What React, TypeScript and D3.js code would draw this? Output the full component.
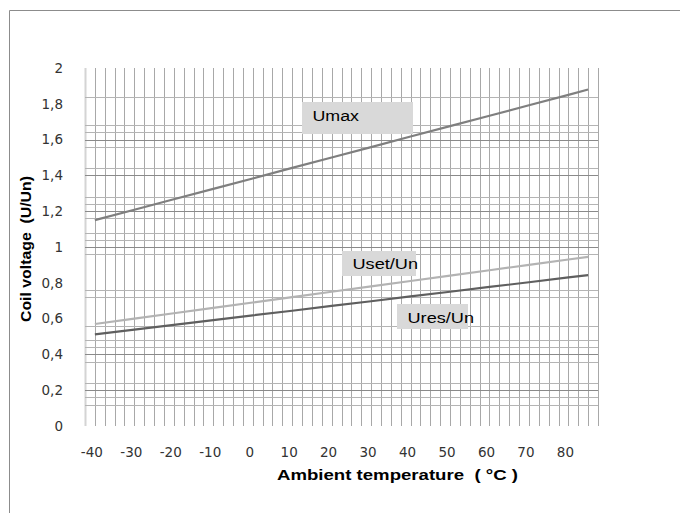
import React from "react";
import * as d3 from "d3";

// Temperatures (°C) at which the curves were read
const temps = [-40, -30, -20, -10, 0, 10, 20, 30, 40, 50, 60, 70, 80, 85];
// Coil voltage ratios
const umax = [1.15, 1.208, 1.267, 1.325, 1.383, 1.442, 1.5, 1.558, 1.617, 1.675, 1.733, 1.792, 1.85, 1.88];
const uset = [0.57, 0.6, 0.63, 0.66, 0.69, 0.72, 0.75, 0.78, 0.81, 0.84, 0.87, 0.9, 0.93, 0.945];
const ures = [0.512, 0.538, 0.565, 0.591, 0.618, 0.644, 0.671, 0.697, 0.724, 0.75, 0.777, 0.803, 0.83, 0.843];

// Axis ticks
const xTickLabels = [-40, -30, -20, -10, 0, 10, 20, 30, 40, 50, 60, 70, 80];
const yTickLabels = [0, 0.2, 0.4, 0.6, 0.8, 1, 1.2, 1.4, 1.6, 1.8, 2];

// Visible horizontal grid lines (major ones darker)
const hGridMajor = [1.6, 1.4, 1.2, 1.0, 0.4, 0.2];
const hGridMinor = [
  1.84, 1.68, 1.64, 1.56, 1.44, 1.28, 1.24, 1.16, 1.08, 1.04, 0.96, 0.76, 0.72,
  0.56, 0.48, 0.44, 0.36, 0.24, 0.16, 0.12,
];
// vertical grid every 2.5 °C
const vGridStep = 2.5;

const series = [
  { name: "Umax", values: umax, color: "#7f7f7f" },
  { name: "Uset/Un", values: uset, color: "#b3b3b3" },
  { name: "Ures/Un", values: ures, color: "#5f5f5f" },
];

const W = 680;
const H = 513;
const plot = { left: 85, right: 598, top: 68, bottom: 426 };

export default function App() {
  const x = d3.scaleLinear().domain([-42.5, 87.5]).range([plot.left, plot.right]);
  const y = d3.scaleLinear().domain([0, 2]).range([plot.bottom, plot.top]);

  const vGrid = d3.range(-42.5, 87.5 + 0.001, vGridStep);

  const line = d3
    .line<number>()
    .x((_, i) => x(temps[i]))
    .y((d) => y(d));

  const fmt = (v: number) => String(v).replace(".", ",");

  return (
    <svg
      width={W}
      height={H}
      style={{ position: "absolute", left: 0, top: 0, background: "#fff" }}
    >
      {/* outer frame */}
      <line x1={9.5} y1={10.5} x2={W} y2={10.5} stroke="#8c8c8c" />
      <line x1={9.5} y1={10.5} x2={9.5} y2={H} stroke="#8c8c8c" />

      {/* vertical grid */}
      {vGrid.map((t, i) => (
        <line
          key={"v" + i}
          x1={Math.round(x(t)) + 0.5}
          x2={Math.round(x(t)) + 0.5}
          y1={plot.top}
          y2={plot.bottom}
          stroke={i === 0 ? "#d4d4d4" : "#a8a8a8"}
          strokeWidth={i === 0 ? 2 : 1}
        />
      ))}

      {/* horizontal grid */}
      {hGridMinor.map((v) => (
        <line
          key={"hm" + v}
          x1={plot.left}
          x2={plot.right}
          y1={Math.round(y(v)) + 0.5}
          y2={Math.round(y(v)) + 0.5}
          stroke="#b4b4b4"
        />
      ))}
      {hGridMajor.map((v) => (
        <line
          key={"hM" + v}
          x1={plot.left}
          x2={plot.right}
          y1={Math.round(y(v)) + 0.5}
          y2={Math.round(y(v)) + 0.5}
          stroke="#8a8a8a"
        />
      ))}

      {/* curves */}
      {series.map((s) => (
        <path
          key={s.name}
          d={line(s.values) || ""}
          fill="none"
          stroke={s.color}
          strokeWidth={2.2}
        />
      ))}

      {/* curve labels */}
      <rect x={302} y={102} width={111} height={32} fill="#d9d9d9" />
      <text x={312.5} y={121} fontFamily="Liberation Sans, Arial" fontSize={15.5} textLength={46.5} lengthAdjust="spacingAndGlyphs" fill="#000">
        Umax
      </text>
      <rect x={342} y={251} width={74} height={25} fill="#d9d9d9" />
      <text x={352.5} y={268.5} fontFamily="Liberation Sans, Arial" fontSize={15.5} textLength={65.5} lengthAdjust="spacingAndGlyphs" fill="#000">
        Uset/Un
      </text>
      <rect x={397} y={304} width={71} height={25} fill="#d9d9d9" />
      <text x={407.5} y={322.5} fontFamily="Liberation Sans, Arial" fontSize={15.5} textLength={66.5} lengthAdjust="spacingAndGlyphs" fill="#000">
        Ures/Un
      </text>

      {/* y tick labels */}
      {yTickLabels.map((v) => (
        <text
          key={"yt" + v}
          x={63}
          y={y(v)}
          dy="0.36em"
          textAnchor="end"
          fontFamily="DejaVu Sans, Verdana"
          fontSize={13.5}
          fill="#333"
        >
          {fmt(v)}
        </text>
      ))}

      {/* x tick labels */}
      {xTickLabels.map((t) => (
        <text
          key={"xt" + t}
          x={x(t) - 3}
          y={457}
          textAnchor="middle"
          fontFamily="DejaVu Sans, Verdana"
          fontSize={13.5}
          fill="#333"
        >
          {t}
        </text>
      ))}

      {/* axis titles */}
      <text
        x={277}
        y={480}
        fontFamily="Liberation Sans, Arial"
        fontWeight="bold"
        fontSize={15}
        textLength={241}
        lengthAdjust="spacingAndGlyphs"
        fill="#000"
        style={{ whiteSpace: "pre" }}
      >
        Ambient temperature  ( °C )
      </text>
      <text
        transform="translate(31,322) rotate(-90)"
        fontFamily="Liberation Sans, Arial"
        fontWeight="bold"
        fontSize={15}
        textLength={146}
        lengthAdjust="spacingAndGlyphs"
        fill="#000"
        style={{ whiteSpace: "pre" }}
      >
        Coil voltage  (U/Un)
      </text>
    </svg>
  );
}
